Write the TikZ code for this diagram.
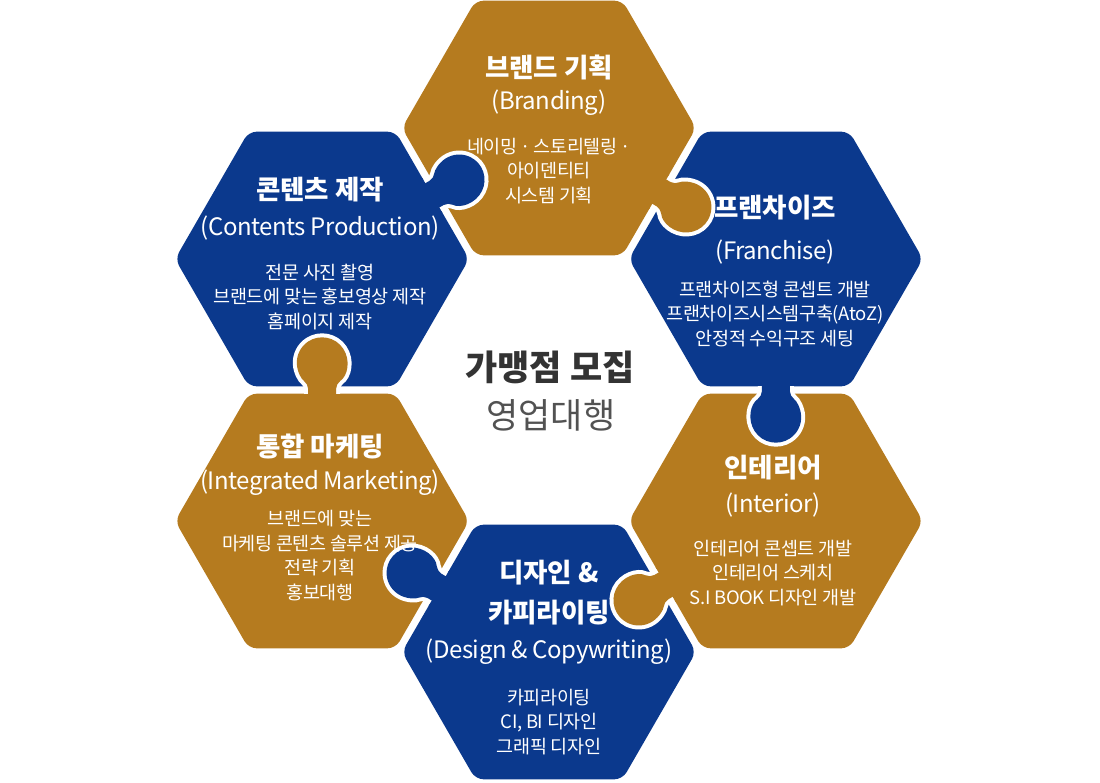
\documentclass[tikz,border=0pt]{standalone}
\usepackage{fontspec}
\setmainfont{Noto Sans CJK KR}
\newfontfamily\engfont[LetterSpace=-2]{Noto Sans CJK KR}
\newfontfamily\bodyfont[LetterSpace=-2]{Noto Sans CJK KR}
\usepackage{tikz}
\usetikzlibrary{calc}

\definecolor{gold}{RGB}{181,123,31}
\definecolor{navy}{RGB}{11,57,141}
\definecolor{ink}{RGB}{51,51,51}

% one hexagon of the ring, at angle #1 round the centre
\newcommand{\hexpiece}[2]{%
  \fill[#2, rounded corners=8pt, shift={(#1:262)}]
    (0:147) -- (60:147) -- (120:147) -- (180:147) -- (240:147) -- (300:147) -- cycle;}

% puzzle knob of piece #1, pushed into its clockwise neighbour
\newcommand{\knob}[2]{%
  \begin{scope}[shift={(#1:262)}, rotate=#1-120]
    \draw[white, line width=8pt, rounded corners=5pt] (122,-14) -- (137.3,-14)
      arc[start angle=-146.4, end angle=146.4, radius=25.3] -- (122,14) -- cycle;
    \fill[#2, rounded corners=5pt] (122,-14) -- (137.3,-14)
      arc[start angle=-146.4, end angle=146.4, radius=25.3] -- (122,14) -- cycle;
    \fill[#2] (115,-20) rectangle (127.3,20);
  \end{scope}}

\begin{document}
\begin{tikzpicture}[x=1pt, y=1pt,
    title/.style={text=white, font=\fontsize{26.5}{40}\selectfont\bfseries, align=center},
    eng/.style={text=white, font=\engfont\fontsize{24}{28}\selectfont},
    body/.style={text=white, font=\bodyfont\fontsize{18.5}{24.5}\selectfont, align=center}]
    \useasboundingbox (-549,-392) rectangle (551,390);

    % Pieces
    \hexpiece{90}{gold}
    \hexpiece{30}{navy}
    \hexpiece{-30}{gold}
    \hexpiece{-90}{navy}
    \hexpiece{-150}{gold}
    \hexpiece{150}{navy}

    % Knobs
    \knob{90}{gold}
    \knob{30}{navy}
    \knob{-30}{gold}
    \knob{-90}{navy}
    \knob{-150}{gold}
    \knob{150}{navy}

    % Branding
    \node (brandT) at (0, 323) [title] {브랜드 기획};
    \node (brandE) at (0, 287) [eng] {(Branding)};
    \node (brandB) at (0, 219) [body] {네이밍\,·\,스토리텔링\,·\\아이덴티티\\시스템 기획};

    % Franchise
    \node (franT) at (226, 182) [title] {프랜차이즈};
    \node (franE) at (226, 138) [eng] {(Franchise)};
    \node (franB) at (226, 76) [body] {프랜차이즈형 콘셉트 개발\\프랜차이즈시스템구축(AtoZ)\\안정적 수익구조 세팅};

    % Interior
    \node (inteT) at (224, -78) [title] {인테리어};
    \node (inteE) at (224, -115) [eng] {(Interior)};
    \node (inteB) at (224, -183) [body] {인테리어 콘셉트 개발\\인테리어 스케치\\S.I BOOK 디자인 개발};

    % Design
    \node (desT) at (0, -203) [title] {디자인 \&\\카피라이팅};
    \node (desE) at (0, -262) [eng] {(Design \& Copywriting)};
    \node (desB) at (0, -332) [body] {카피라이팅\\CI, BI 디자인\\그래픽 디자인};

    % Integrated marketing
    \node (markT) at (-229, -57) [title] {통합 마케팅};
    \node (markE) at (-229, -93) [eng] {(Integrated Marketing)};
    \node (markB) at (-229, -165.5) [body] {브랜드에 맞는\\마케팅 콘텐츠 솔루션 제공\\전략 기획\\홍보대행};

    % Contents
    \node (contT) at (-229, 200) [title] {콘텐츠 제작};
    \node (contE) at (-229, 162) [eng] {(Contents Production)};
    \node (contB) at (-229, 93) [body] {전문 사진 촬영\\브랜드에 맞는 홍보영상 제작\\홈페이지 제작};

    % Centre
    \node (recruit) at (1, 23) [text=ink, font=\fontsize{35}{38}\selectfont\bfseries] {가맹점 모집};
    \node (agency) at (2, -25) [text=ink!85, font=\fontsize{35}{38}\selectfont] {영업대행};
\end{tikzpicture}
\end{document}
